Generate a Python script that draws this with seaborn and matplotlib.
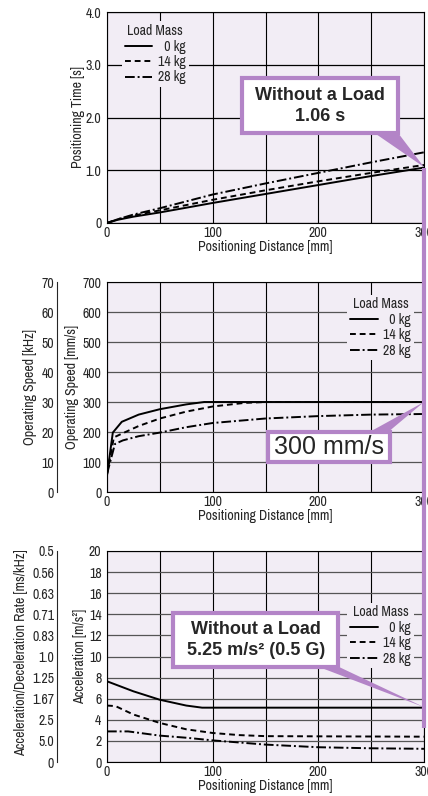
import numpy as np
import pandas as pd
import matplotlib
matplotlib.use("Agg")
import matplotlib.pyplot as plt
import seaborn as sns
from matplotlib import font_manager
from matplotlib.lines import Line2D
from matplotlib.patches import Rectangle, Polygon

# ---- data ----
masses = ["0 kg", "14 kg", "28 kg"]

# positioning time [s] vs distance [mm]
time_dist = [0, 10, 25, 50, 100, 150, 200, 250, 300]
time_0kg = [0, 0.06, 0.12, 0.20, 0.38, 0.55, 0.72, 0.89, 1.05]
time_14kg = [0, 0.07, 0.14, 0.24, 0.44, 0.62, 0.79, 0.95, 1.10]
time_28kg = [0, 0.07, 0.16, 0.28, 0.54, 0.75, 0.95, 1.15, 1.34]

# operating speed [mm/s] vs distance [mm]
speed_dist_0kg = [0, 5.5, 14, 30, 50, 75, 92, 300]
speed_0kg = [55, 198, 234, 258, 276, 292, 300, 300]
speed_dist_14kg = [0, 6.5, 15, 30, 50, 75, 100, 130, 150, 300]
speed_14kg = [60, 182, 196, 220, 245, 268, 285, 297, 300, 300]
speed_dist_28kg = [0, 7.5, 15, 30, 50, 75, 100, 150, 200, 250, 300]
speed_28kg = [60, 160, 172, 186, 198, 216, 230, 245, 253, 258, 260]

# acceleration [m/s2] vs distance [mm]
acc_dist_0kg = [0, 25, 50, 75, 90, 300]
acc_0kg = [7.65, 6.7, 5.9, 5.35, 5.15, 5.15]
acc_dist_14kg = [0, 8, 25, 50, 75, 100, 125, 150, 300]
acc_14kg = [5.35, 5.3, 4.5, 3.7, 3.1, 2.75, 2.55, 2.45, 2.4]
acc_dist_28kg = [0, 20, 50, 75, 100, 150, 200, 250, 300]
acc_28kg = [2.9, 2.9, 2.5, 2.3, 2.05, 1.65, 1.4, 1.3, 1.25]

speed_khz_ticks = [0, 10, 20, 30, 40, 50, 60, 70]
rate_labels = ["0", "5.0", "2.5", "1.67", "1.25", "1.0", "0.83", "0.71", "0.63", "0.56", "0.5"]

time_df = pd.DataFrame({
    "dist": time_dist * 3,
    "val": time_0kg + time_14kg + time_28kg,
    "mass": sum([[m] * len(time_dist) for m in masses], []),
})
speed_df = pd.DataFrame({
    "dist": speed_dist_0kg + speed_dist_14kg + speed_dist_28kg,
    "val": speed_0kg + speed_14kg + speed_28kg,
    "mass": [masses[0]] * len(speed_0kg) + [masses[1]] * len(speed_14kg) + [masses[2]] * len(speed_28kg),
})
acc_df = pd.DataFrame({
    "dist": acc_dist_0kg + acc_dist_14kg + acc_dist_28kg,
    "val": acc_0kg + acc_14kg + acc_28kg,
    "mass": [masses[0]] * len(acc_0kg) + [masses[1]] * len(acc_14kg) + [masses[2]] * len(acc_28kg),
})

# ---- style ----
sns.set_style("white")
fonts = font_manager.fontManager.ttflist
narrow_names = [f.name for f in fonts if "Narrow" in f.name or "Condensed" in f.name]
dejavu_cond = any(f.name == "DejaVu Sans" and "condensed" in str(f.stretch) for f in fonts)
fsize = 10
if narrow_names:
    plt.rcParams["font.family"] = [sorted(narrow_names)[0], "DejaVu Sans"]
elif dejavu_cond:
    plt.rcParams["font.family"] = ["DejaVu Sans"]
    plt.rcParams["font.stretch"] = "condensed"
    fsize = 9
else:
    plt.rcParams["font.family"] = ["Liberation Sans", "DejaVu Sans"]
    fsize = 8.5
plt.rcParams["font.size"] = fsize

bg = "#f2edf5"
purple = "#b384c7"
dashes = {"0 kg": "", "14 kg": (3, 2), "28 kg": (5, 1.5, 1, 1.5)}
W, H = 428, 796

fig = plt.figure(figsize=(W / 100, H / 100), dpi=100)


def frame(top_px, h_px):
    return [107 / W, 1 - (top_px + h_px) / H, 317 / W, h_px / H]


def base_axes(rect, df, ylim, yticks, ylabels, hcolor):
    ax = fig.add_axes(rect)
    ax.set_facecolor(bg)
    sns.lineplot(data=df, x="dist", y="val", style="mass", dashes=dashes,
                 color="black", lw=1.4, ax=ax, legend=False, estimator=None)
    ax.set_xlim(0, 300)
    ax.set_ylim(*ylim)
    ax.set_xticks([0, 100, 200, 300])
    ax.set_xticks([50, 150, 250], minor=True)
    ax.set_yticks(yticks)
    ax.set_yticklabels(ylabels)
    ax.grid(True, axis="x", which="both", color="black", lw=0.8)
    ax.grid(True, axis="y", which="major", color=hcolor, lw=0.9)
    for s in ax.spines.values():
        s.set_color("black")
        s.set_linewidth(0.8)
    ax.tick_params(axis="x", which="both", length=0, pad=2)
    ax.tick_params(axis="y", length=3, width=0.8, pad=1, color="black")
    ax.set_xlabel("Positioning Distance [mm]", va="center")
    ax.xaxis.set_label_coords(0.5, -24 / rect[3] / H)
    return ax


def legend(ax, loc, anchor):
    handles = [Line2D([], [], color="black", lw=1.4, dashes=dashes[m] if dashes[m] else (None, None)) for m in masses]
    labels = ["  0 kg", "14 kg", "28 kg"]
    lg = ax.legend(handles, labels, title="Load Mass", loc=loc, bbox_to_anchor=anchor,
                   frameon=True, facecolor=bg, edgecolor="none", framealpha=1,
                   handlelength=2.0, handletextpad=0.4, labelspacing=0.1,
                   borderpad=0.2, borderaxespad=0, fontsize=fsize, title_fontsize=fsize)
    lg.get_frame().set_linewidth(0)
    return lg


def callout(ax, box, tri, text, size, weight, spacing=1.3):
    x0, x1, y0, y1 = box
    ax.add_patch(Polygon(tri, closed=True, fc=purple, ec="none", zorder=5, clip_on=False))
    ax.add_patch(Rectangle((x0, y0), x1 - x0, y1 - y0, fc="white", ec=purple, lw=3,
                           zorder=6, clip_on=False))
    ax.text((x0 + x1) / 2, (y0 + y1) / 2, text, ha="center", va="center", fontsize=size,
            fontweight=weight, family="Liberation Sans", stretch="normal",
            linespacing=spacing, zorder=7)


# ---- panel 1: positioning time ----
ax1 = base_axes(frame(12, 211), time_df, (0, 4), [0, 1, 2, 3, 4],
                ["0", "1.0", "2.0", "3.0", "4.0"], "black")
ax1.set_ylabel("Positioning Time [s]", va="center")
ax1.yaxis.set_label_coords(-29 / 317, 0.5)
legend(ax1, "upper left", (0.047, 0.955))
callout(ax1, (127.8, 275.7, 1.70, 2.743),
        [(253.6, 1.70), (275.7, 1.70), (300, 1.06)],
        "Without a Load\n1.06 s", 13, "bold")

# ---- panel 2: operating speed ----
r2 = frame(282, 210)
ax2 = base_axes(r2, speed_df, (0, 700), list(range(0, 701, 100)),
                [str(v) for v in range(0, 701, 100)], "#555555")
for t in ax2.get_xticklabels():
    t.set_fontweight("bold")
ax2.set_ylabel("Operating Speed [mm/s]", va="center")
ax2.yaxis.set_label_coords(-35 / 317, 0.5)
legend(ax2, "upper right", (0.968, 0.94))
callout(ax2, (152.8, 267.8, 101, 200.8),
        [(248.9, 200.8), (267.8, 205), (300, 300)],
        "300 mm/s", 18, "normal")

sec2 = fig.add_axes([57 / W, r2[1], 0.002, r2[3]])
sec2.set_facecolor("none")
for k in ("top", "right", "bottom"):
    sec2.spines[k].set_visible(False)
sec2.spines["left"].set_linewidth(0.8)
sec2.set_ylim(0, 70)
sec2.set_yticks(speed_khz_ticks)
sec2.set_xticks([])
sec2.tick_params(axis="y", direction="in", length=4, width=0.8, pad=2)
sec2.set_ylabel("Operating Speed [kHz]", va="center")
sec2.yaxis.set_label_coords(30 / W, r2[1] + r2[3] / 2, transform=fig.transFigure)

# ---- panel 3: acceleration ----
r3 = frame(551, 211)
ax3 = base_axes(r3, acc_df, (0, 20), list(range(0, 21, 2)),
                [str(v) for v in range(0, 21, 2)], "#555555")
ax3.set_ylabel("Acceleration [m/s²]", va="center")
ax3.yaxis.set_label_coords(-27 / 317, 0.5)
legend(ax3, "upper right", (0.968, 0.755))
callout(ax3, (62.7, 218.9, 9.04, 14.09),
        [(199.7, 9.04), (218.9, 9.04), (300, 5.2)],
        "Without a Load\n5.25 m/s² (0.5 G)", 13, "bold")

sec3 = fig.add_axes([57 / W, r3[1], 0.002, r3[3]])
sec3.set_facecolor("none")
for k in ("top", "right", "bottom"):
    sec3.spines[k].set_visible(False)
sec3.spines["left"].set_linewidth(0.8)
sec3.set_ylim(0, 20)
sec3.set_yticks(range(0, 21, 2))
sec3.set_yticklabels(rate_labels)
sec3.set_xticks([])
sec3.tick_params(axis="y", direction="in", length=4, width=0.8, pad=2)
sec3.set_ylabel("Acceleration/Deceleration Rate [ms/kHz]", va="center")
sec3.yaxis.set_label_coords(21 / W, r3[1] + r3[3] * 0.52, transform=fig.transFigure)

# purple marker bar along 300 mm
fig.add_artist(Line2D([424 / W, 424 / W], [1 - 168 / H, 1 - 728 / H], transform=fig.transFigure,
                      color=purple, lw=3, solid_capstyle="butt", zorder=10))

fig.savefig("out.png", dpi=100)
